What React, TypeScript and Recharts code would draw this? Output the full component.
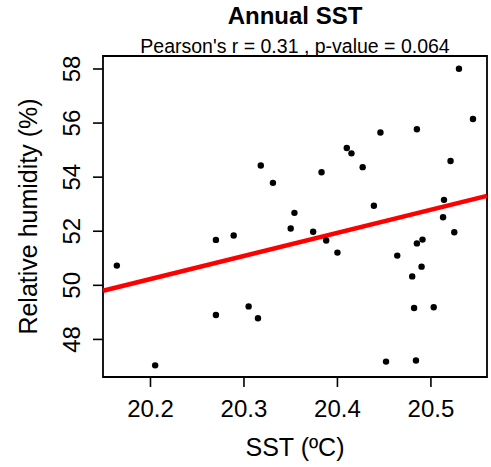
import { ScatterChart, Scatter, XAxis, YAxis, ReferenceLine, ReferenceArea } from "recharts";

// annual SST (ºC) vs relative humidity (%)
const sst = [
  20.318, 20.331, 20.53, 20.545, 20.446, 20.485, 20.41, 20.415, 20.427, 20.521,
  20.383, 20.439, 20.514, 20.354, 20.513, 20.35, 20.374, 20.388, 20.4, 20.525,
  20.485, 20.491, 20.464, 20.49, 20.48, 20.482, 20.503, 20.452, 20.484, 20.27,
  20.289, 20.164, 20.27, 20.305, 20.315, 20.205,
];
const humidity = [
  54.43, 53.79, 58.01, 56.15, 55.65, 55.77, 55.08, 54.88, 54.37, 54.6,
  54.18, 52.94, 53.16, 52.68, 52.52, 52.1, 51.98, 51.66, 51.21, 51.96,
  51.55, 51.69, 51.1, 50.69, 50.33, 49.16, 49.19, 47.18, 47.22, 51.68,
  51.84, 50.73, 48.9, 49.22, 48.78, 47.04,
];
const xTicks = [20.2, 20.3, 20.4, 20.5];
const yTicks = [48, 50, 52, 54, 56, 58];
// fitted line, value at each end of the x range
const fitX = [20.1492, 20.56];
const fitY = [49.8, 53.31];

const xDomain: [number, number] = [20.1492, 20.56];
const yDomain: [number, number] = [46.61, 58.48];

const data = sst.map((x, i) => ({ x, y: humidity[i] }));

const font = "'Liberation Sans', Arial, sans-serif";

const XTick = ({ x, y, payload }: any) => (
  <text x={x} y={y} dy={27.5} textAnchor="middle" fontSize={24} fill="#000" fontFamily={font}>
    {payload.value.toFixed(1)}
  </text>
);

const YTick = ({ x, y, payload }: any) => {
  const bx = x - 10.5;
  return (
    <text x={bx} y={y} transform={`rotate(-90, ${bx}, ${y})`} textAnchor="middle" fontSize={24} fill="#000" fontFamily={font}>
      {payload.value}
    </text>
  );
};

const Dot = (props: any) => <circle cx={props.cx} cy={props.cy} r={3.2} fill="#000" />;

export default function App() {
  return (
    <div style={{ position: "absolute", left: 0, top: 0, background: "#fff" }}>
      <ScatterChart width={491} height={467} margin={{ top: 56, right: 4, bottom: 0, left: 0 }}>
        <XAxis
          type="number"
          dataKey="x"
          domain={xDomain}
          allowDataOverflow
          ticks={xTicks}
          height={90}
          tickSize={10}
          axisLine={false}
          tickLine={{ stroke: "#000", strokeWidth: 1.6 }}
          tick={<XTick />}
          label={{
            content: () => (
              <text x={295} y={456} textAnchor="middle" fontSize={25} fill="#000" fontFamily={font}>
                SST (ºC)
              </text>
            ),
          }}
        />
        <YAxis
          type="number"
          dataKey="y"
          domain={yDomain}
          allowDataOverflow
          ticks={yTicks}
          width={103}
          tickSize={10}
          axisLine={false}
          tickLine={{ stroke: "#000", strokeWidth: 1.6 }}
          tick={<YTick />}
          label={{
            content: () => (
              <text x={37} y={216.5} transform="rotate(-90, 37, 216.5)" textAnchor="middle" fontSize={25} fill="#000" fontFamily={font}>
                Relative humidity (%)
              </text>
            ),
          }}
        />
        <ReferenceArea
          x1={xDomain[0]}
          x2={xDomain[1]}
          y1={yDomain[0]}
          y2={yDomain[1]}
          fill="none"
          fillOpacity={0}
          stroke="#000"
          strokeWidth={1.8}
        />
        <ReferenceLine
          segment={[
            { x: fitX[0], y: fitY[0] },
            { x: fitX[1], y: fitY[1] },
          ]}
          stroke="#ff0000"
          strokeWidth={4.5}
        />
        <Scatter data={data} shape={<Dot />} isAnimationActive={false} />
        <text x={295} y={24} textAnchor="middle" fontSize={24} fontWeight="bold" fill="#000" fontFamily={font}>
          Annual SST
        </text>
        <text x={295} y={53} textAnchor="middle" fontSize={19.5} fill="#000" fontFamily={font}>
          Pearson's r = 0.31 , p-value = 0.064
        </text>
      </ScatterChart>
    </div>
  );
}
